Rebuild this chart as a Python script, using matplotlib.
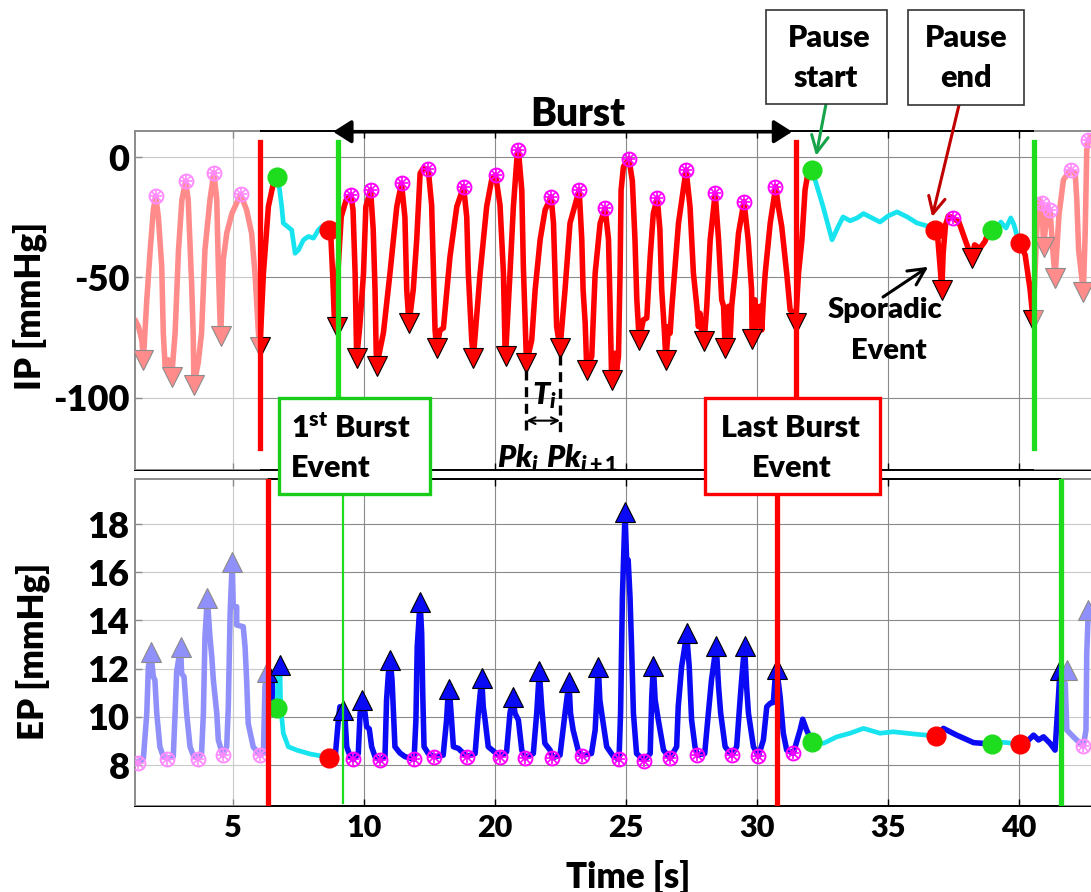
import matplotlib
matplotlib.use("Agg")
import matplotlib.pyplot as plt
from matplotlib.patches import Rectangle

plt.rcParams['font.family'] = ['Lato', 'DejaVu Sans']
plt.rcParams['font.weight'] = 'heavy'
plt.rcParams['axes.unicode_minus'] = False
plt.rcParams['mathtext.fontset'] = 'custom'
plt.rcParams['mathtext.rm'] = 'Lato:heavy'
plt.rcParams['mathtext.it'] = 'Lato:italic:heavy'
plt.rcParams['mathtext.bf'] = 'Lato:heavy'

# ---------------- data ----------------
tick_pos = [5, 10, 15, 20, 25, 30, 35]
tick_labels = ['5', '10', '20', '25', '30', '35', '40']
ip_ticks = [0, -50, -100]
ep_ticks = [8, 10, 12, 14, 16, 18]

# IP trace (mmHg), split into event (red) and pause (cyan) stretches
ip_pre = [(1.26, -67.6), (1.39, -70.4), (1.52, -76.0), (1.58, -84.2), (1.71, -59.3), (1.84, -38.6),
          (1.96, -22.0), (2.05, -16.2), (2.15, -24.8), (2.28, -45.5), (2.34, -73.2), (2.41, -87.0),
          (2.53, -84.2), (2.66, -91.2), (2.79, -73.2), (2.92, -38.6), (3.05, -17.8), (3.19, -10.0),
          (3.29, -17.8), (3.42, -52.4), (3.48, -73.2), (3.51, -94.6), (3.67, -85.6), (3.80, -73.2),
          (3.93, -38.6), (4.12, -17.8), (4.27, -6.5), (4.38, -17.8), (4.44, -45.5), (4.50, -66.2),
          (4.53, -74.5), (4.63, -42.7), (4.76, -31.7), (4.96, -23.4), (5.29, -15.5), (5.52, -22.0),
          (5.71, -31.7), (5.84, -48.3), (5.97, -73.2), (6.03, -79.0), (6.16, -48.3), (6.35, -20.6),
          (6.54, -10.9), (6.67, -8.2)]
ip_pause1 = [(6.67, -8.2), (6.73, -9.5), (6.86, -20.6), (6.92, -27.5), (7.24, -30.3), (7.37, -40.0),
             (7.50, -38.6), (7.69, -34.4), (7.88, -33.0), (8.07, -33.7), (8.26, -30.3), (8.39, -28.9),
             (8.68, -30.3)]
ip_burst = [(8.68, -30.3), (8.74, -34.4), (8.80, -48.3), (8.87, -67.6), (8.96, -70.4), (9.00, -48.3),
            (9.13, -24.8), (9.32, -17.8), (9.50, -15.8), (9.58, -22.0), (9.66, -48.3), (9.71, -76.0),
            (9.72, -83.5), (9.84, -70.0), (9.98, -48.3), (10.07, -20.6), (10.25, -13.7), (10.35, -30.0),
            (10.42, -55.2), (10.46, -78.7), (10.48, -87.0), (10.61, -80.0), (10.74, -73.0), (10.99, -48.3),
            (11.25, -20.6), (11.43, -10.9), (11.56, -25.0), (11.63, -55.2), (11.69, -65.0), (11.72, -69.0),
            (11.88, -55.0), (12.01, -34.4), (12.14, -6.8), (12.26, -4.7), (12.45, -5.1), (12.58, -20.0),
            (12.65, -48.3), (12.71, -71.8), (12.77, -79.4), (12.90, -72.0), (13.03, -71.0), (13.28, -41.4),
            (13.54, -20.6), (13.80, -12.3), (13.92, -25.0), (13.98, -48.3), (14.11, -76.0), (14.17, -83.5),
            (14.43, -48.3), (14.68, -20.6), (14.87, -9.5), (15.02, -7.5), (15.19, -20.0), (15.32, -48.3),
            (15.38, -78.7), (15.40, -82.8), (15.57, -48.3), (15.70, -20.6), (15.83, -1.2), (15.89, 2.9),
            (16.02, -13.7), (16.08, -45.5), (16.15, -69.0), (16.20, -85.6), (16.40, -76.0), (16.53, -55.2),
            (16.72, -34.4), (16.91, -22.0), (17.14, -16.5), (17.23, -27.5), (17.29, -48.3), (17.35, -70.4),
            (17.48, -79.4), (17.67, -55.2), (17.86, -27.5), (18.21, -13.7), (18.31, -34.4), (18.36, -55.2),
            (18.44, -69.0), (18.50, -88.4), (18.69, -82.8), (18.82, -48.3), (19.01, -27.5), (19.20, -21.3),
            (19.33, -34.4), (19.39, -62.0), (19.45, -92.5), (19.58, -81.5), (19.64, -88.4), (19.71, -82.8),
            (19.77, -48.3), (19.81, -13.7), (19.90, -4.0), (20.11, -0.8), (20.24, -10.0), (20.34, -34.4),
            (20.41, -59.3), (20.50, -75.9), (20.66, -67.6), (20.79, -66.9), (20.92, -41.4), (21.04, -23.4),
            (21.19, -17.1), (21.29, -30.0), (21.36, -55.2), (21.46, -72.0), (21.52, -84.2), (21.62, -70.4),
            (21.68, -73.2), (21.75, -62.0), (22.00, -27.5), (22.29, -5.4), (22.44, -20.6), (22.57, -48.3),
            (22.70, -62.0), (22.76, -70.4), (22.82, -64.9), (22.89, -73.2), (22.98, -76.6), (23.08, -62.0),
            (23.21, -34.4), (23.40, -15.1), (23.53, -34.4), (23.65, -59.3), (23.72, -62.0), (23.78, -79.4),
            (23.84, -76.0), (23.91, -62.0), (23.97, -76.0), (24.03, -62.0), (24.16, -48.3), (24.29, -31.7),
            (24.50, -18.5), (24.66, -34.4), (24.79, -55.2), (24.81, -75.7), (24.92, -59.3), (24.99, -70.4),
            (25.11, -62.0), (25.18, -71.8), (25.24, -59.3), (25.31, -48.3), (25.50, -27.5), (25.71, -12.3),
            (25.81, -20.6), (25.94, -28.9), (26.13, -48.3), (26.26, -63.5), (26.45, -65.6), (26.47, -69.0),
            (26.58, -48.3), (26.71, -34.4), (26.83, -13.7), (26.95, -6.0), (27.10, -5.4)]
ip_pause2 = [(27.10, -5.4), (27.52, -20.7), (27.86, -34.4), (28.09, -29.0), (28.28, -24.9), (28.55, -26.5),
             (28.82, -25.3), (29.06, -23.5), (29.31, -24.9), (29.69, -27.0), (30.00, -24.5), (30.34, -22.8),
             (30.73, -24.9), (31.10, -27.4), (31.60, -29.0), (31.80, -30.3)]
ip_sporadic = [(31.80, -30.3), (31.90, -34.4), (31.98, -45.0), (32.05, -55.2), (32.10, -40.0), (32.19, -28.2),
               (32.30, -24.5), (32.49, -25.4), (32.70, -27.0), (32.94, -34.4), (33.19, -42.0), (33.30, -36.5),
               (33.50, -38.0), (33.70, -35.0), (33.80, -32.0), (33.96, -30.3)]
ip_pause3 = [(33.96, -30.3), (34.15, -32.4), (34.30, -27.0), (34.50, -29.5), (34.68, -25.3), (34.80, -28.0),
             (34.90, -32.0), (35.04, -35.8)]
ip_post = [(35.04, -35.8), (35.23, -40.7), (35.42, -55.2), (35.53, -67.6), (35.67, -31.7), (35.74, -17.8),
           (35.86, -19.2), (35.90, -28.0), (35.93, -37.2), (36.02, -28.0), (36.10, -21.0), (36.18, -22.0),
           (36.28, -38.0), (36.37, -50.3), (36.52, -24.0), (36.69, -9.5), (36.95, -5.4), (37.14, -6.8),
           (37.20, -17.8), (37.27, -38.6), (37.45, -55.9), (37.52, -31.7), (37.58, 2.9), (37.64, 7.0),
           (37.80, 9.0)]

ip_peaks = [(2.05, -16.2), (3.19, -10.0), (4.27, -6.5), (5.29, -15.5), (9.50, -15.8), (10.25, -13.7),
            (11.43, -10.9), (12.45, -5.1), (13.80, -12.3), (15.02, -7.5), (15.89, 2.9), (17.13, -16.5),
            (18.21, -13.7), (19.20, -21.3), (20.11, -0.8), (21.19, -17.1), (22.28, -5.4), (23.40, -15.1),
            (24.50, -18.5), (25.70, -12.3), (32.49, -25.4), (35.86, -19.2), (36.18, -22.0), (36.97, -5.4),
            (37.64, 7.0)]
ip_troughs = [(1.58, -84.2), (2.66, -91.2), (3.51, -94.6), (4.53, -74.5), (6.03, -79.0), (8.96, -70.4),
              (9.72, -83.5), (10.48, -87.0), (11.72, -69.0), (12.77, -79.4), (14.17, -83.5), (15.40, -82.8),
              (16.20, -85.6), (17.48, -79.4), (18.50, -88.4), (19.45, -92.5), (20.50, -75.9), (21.52, -84.2),
              (22.96, -76.6), (23.78, -79.4), (24.81, -75.7), (26.47, -69.0), (32.05, -55.2), (33.19, -42.0),
              (35.53, -67.6), (35.93, -37.2), (36.37, -50.3), (37.45, -55.9)]
ip_pause_start = [(6.67, -8.2), (27.10, -5.4), (33.96, -30.3)]
ip_pause_end = [(8.68, -30.3), (31.80, -30.3), (35.04, -35.8)]

# EP trace (mmHg)
ep_pre = [(1.26, 8.14), (1.39, 8.10), (1.58, 8.28), (1.71, 10.15), (1.77, 12.08), (1.86, 12.70), (1.96, 11.66),
          (2.02, 11.53), (2.09, 10.15), (2.21, 8.76), (2.34, 8.35), (2.49, 8.27), (2.72, 8.35), (2.79, 10.15),
          (2.85, 11.87), (3.00, 12.90), (3.04, 11.80), (3.13, 11.66), (3.23, 10.15), (3.36, 8.76), (3.48, 8.41),
          (3.67, 8.27), (3.80, 8.48), (3.87, 10.15), (3.93, 13.32), (4.02, 14.92), (4.12, 13.32), (4.19, 12.49),
          (4.25, 11.53), (4.38, 10.15), (4.44, 9.04), (4.61, 8.41), (4.76, 8.76), (4.82, 10.42), (4.89, 14.29),
          (4.97, 16.44), (5.01, 14.57), (5.14, 14.57), (5.14, 13.81), (5.39, 13.74), (5.46, 12.91),
          (5.52, 11.53), (5.58, 9.73), (5.77, 8.76), (6.03, 8.41), (6.16, 8.48), (6.22, 11.25), (6.29, 11.87),
          (6.35, 11.25), (6.48, 11.80), (6.54, 10.42), (6.67, 10.35)]
ep_pause1 = [(6.67, 10.35), (6.73, 12.00), (6.79, 12.15), (6.82, 10.40), (6.92, 9.32), (7.11, 8.76),
             (7.43, 8.62), (7.94, 8.46), (8.39, 8.37), (8.68, 8.28)]
ep_burst = [(8.68, 8.28), (8.89, 8.21), (9.02, 9.87), (9.08, 10.42), (9.19, 10.28), (9.27, 10.00),
            (9.34, 8.76), (9.47, 8.35), (9.59, 8.23), (9.78, 8.48), (9.85, 10.15), (9.94, 10.70), (10.04, 10.15),
            (10.10, 9.59), (10.20, 9.50), (10.29, 8.76), (10.42, 8.35), (10.61, 8.20), (10.80, 8.35),
            (10.86, 10.70), (10.93, 11.80), (11.00, 12.36), (11.07, 11.50), (11.12, 10.28), (11.18, 8.76),
            (11.37, 8.50), (11.56, 8.35), (11.91, 8.24), (11.98, 9.87), (12.03, 12.91), (12.14, 14.78),
            (12.20, 13.46), (12.24, 10.98), (12.29, 8.76), (12.45, 8.48), (12.67, 8.35), (13.02, 8.41),
            (13.15, 9.87), (13.21, 10.98), (13.26, 11.14), (13.34, 9.87), (13.41, 8.76), (13.60, 8.69),
            (13.92, 8.35), (14.24, 8.48), (14.36, 10.15), (14.49, 11.60), (14.55, 10.42), (14.62, 9.87),
            (14.74, 8.76), (15.19, 8.35), (15.44, 8.55), (15.57, 10.15), (15.68, 10.83), (15.76, 10.15),
            (15.89, 9.87), (16.02, 8.62), (16.15, 8.30), (16.46, 8.48), (16.59, 10.15), (16.69, 11.90),
            (16.78, 10.42), (16.90, 8.90), (17.10, 8.62), (17.19, 8.30), (17.48, 8.41), (17.67, 10.15),
            (17.82, 11.43), (17.88, 10.15), (17.98, 9.45), (18.17, 8.62), (18.30, 8.39), (18.68, 8.48),
            (18.82, 9.45), (18.88, 10.70), (18.94, 12.08), (19.00, 10.70), (19.07, 10.15), (19.26, 8.76),
            (19.52, 8.35), (19.73, 8.24), (19.79, 10.15), (19.86, 14.98), (19.96, 18.49), (20.02, 16.51),
            (20.08, 16.51), (20.15, 14.98), (20.21, 12.91), (20.28, 10.15), (20.40, 8.48), (20.69, 8.18),
            (20.92, 8.48), (20.98, 10.83), (21.04, 12.11), (21.11, 10.70), (21.23, 9.87), (21.43, 8.62),
            (21.68, 8.28), (21.93, 8.76), (21.99, 10.42), (22.12, 12.08), (22.21, 12.70), (22.31, 13.46),
            (22.41, 12.08), (22.50, 9.87), (22.63, 8.76), (22.72, 8.41), (23.00, 8.48), (23.14, 10.15),
            (23.26, 11.53), (23.44, 12.95), (23.53, 11.25), (23.61, 10.15), (23.78, 8.76), (24.03, 8.41),
            (24.22, 8.76), (24.35, 10.70), (24.41, 11.53), (24.52, 12.95), (24.60, 11.25), (24.67, 10.15),
            (24.86, 8.76), (25.05, 8.37), (25.24, 9.04), (25.37, 10.42), (25.50, 10.56), (25.62, 10.60),
            (25.68, 11.50), (25.75, 11.98), (25.88, 10.83), (26.00, 9.32), (26.13, 8.62), (26.38, 8.48),
            (26.64, 9.45), (26.74, 9.90), (26.89, 9.45), (27.10, 8.97)]
ep_pause2 = [(27.10, 8.97), (27.53, 8.90), (28.04, 9.17), (28.55, 9.32), (29.06, 9.52), (29.69, 9.32),
             (30.20, 9.38), (30.97, 9.29), (31.66, 9.22), (31.83, 9.22)]
ep_sporadic = [(31.83, 9.22), (32.11, 9.52), (32.62, 9.24), (33.26, 8.93), (33.95, 8.87)]
ep_pause3 = [(33.95, 8.87), (34.25, 8.95), (34.53, 8.93), (35.04, 8.87)]
ep_post = [(35.04, 8.87), (35.36, 9.04), (35.55, 9.24), (35.74, 9.04), (35.93, 9.17), (36.18, 8.90),
           (36.37, 8.62), (36.50, 10.83), (36.56, 11.94), (36.76, 11.39), (36.82, 9.45), (37.07, 9.17),
           (37.39, 8.83), (37.45, 8.79), (37.55, 9.45), (37.58, 12.63), (37.64, 14.43), (37.80, 14.60)]

ep_peaks = [(1.86, 12.70), (3.00, 12.90), (4.02, 14.92), (4.97, 16.44), (6.29, 11.87), (6.79, 12.15),
            (9.19, 10.28), (9.94, 10.70), (11.00, 12.36), (12.14, 14.78), (13.26, 11.14), (14.49, 11.60),
            (15.68, 10.83), (16.69, 11.90), (17.82, 11.43), (18.94, 12.08), (19.96, 18.49), (21.04, 12.11),
            (22.31, 13.46), (23.44, 12.95), (24.52, 12.95), (25.75, 11.98), (36.56, 11.94), (36.83, 11.94),
            (37.64, 14.43)]
ep_troughs = [(1.39, 8.10), (2.49, 8.27), (3.67, 8.27), (4.61, 8.41), (6.03, 8.41), (9.59, 8.23),
              (10.61, 8.20), (11.91, 8.24), (12.67, 8.35), (13.92, 8.35), (15.19, 8.35), (16.15, 8.30),
              (17.19, 8.30), (18.30, 8.39), (19.73, 8.24), (20.69, 8.18), (21.68, 8.28), (22.72, 8.41),
              (24.03, 8.41), (25.05, 8.37), (26.38, 8.48), (37.45, 8.79)]
ep_pause_start = [(6.67, 10.35), (27.10, 8.97), (33.95, 8.87)]
ep_pause_end = [(8.68, 8.28), (31.83, 9.22), (35.04, 8.87)]

# burst boundaries and faded (out-of-window) ranges
ip_burst_lines = {'first': 9.0, 'last': 26.49, 'prev_end': 6.03, 'next_start': 35.55}
ep_burst_lines = {'first': 9.2, 'last': 25.75, 'prev_end': 6.35, 'next_start': 36.6}
pk_pair = [(16.20, -85.6), (17.48, -79.4)]

# ---------------- styling ----------------
RED = '#ff0000'
BLUE = '#0a0af5'
CYAN = '#18e4f0'
GREEN = '#1edc1e'
MAGENTA = '#ff00ff'
W, H = 1091, 892
XMIN, XMAX = 1.26, 38.99


def fpx(x, y):
    return x / W, 1 - y / H


fig = plt.figure(figsize=(W / 100, H / 100), dpi=100)
ax1 = fig.add_axes([135 / W, 1 - 470 / H, (1123.7 - 135) / W, (470 - 131) / H])
ax2 = fig.add_axes([135 / W, 1 - 806 / H, (1123.7 - 135) / W, (806 - 479) / H])


def trace(ax, pts, color, lw=4.0, z=2):
    t, v = zip(*pts)
    ax.plot(t, v, color=color, lw=lw, zorder=z, solid_joinstyle='round', solid_capstyle='round')


def star_circles(ax, pts, ms=10):
    t, v = zip(*pts)
    ax.plot(t, v, 'o', ms=ms, mfc='none', mec=MAGENTA, mew=1.4, zorder=3.3)
    ax.plot(t, v, '+', ms=ms - 1, mec=MAGENTA, mew=1.2, zorder=3.3)
    ax.plot(t, v, 'x', ms=ms - 3, mec=MAGENTA, mew=1.2, zorder=3.3)


def dots(ax, pts, color):
    t, v = zip(*pts)
    ax.plot(t, v, 'o', ms=13.5, mfc=color, mec=color, zorder=3.5)


def fade(ax, x0, x1):
    ax.add_patch(Rectangle((x0, 0), x1 - x0, 1.004, transform=ax.get_xaxis_transform(),
                           facecolor='white', edgecolor='none', alpha=0.55, zorder=4, clip_on=False))


# ---- IP panel ----
for seg in (ip_pre, ip_burst, ip_sporadic, ip_post):
    trace(ax1, seg, RED)
for seg in (ip_pause1, ip_pause2, ip_pause3):
    trace(ax1, seg, CYAN, lw=3.4, z=2.2)
star_circles(ax1, ip_peaks)
tt, tv = zip(*ip_troughs)
ax1.plot(tt, tv, 'v', ms=15, mfc=RED, mec='black', mew=0.8, zorder=3.2)
dots(ax1, ip_pause_start, GREEN)
dots(ax1, ip_pause_end, RED)

fade(ax1, XMIN - 0.2, ip_burst_lines['prev_end'])
fade(ax1, ip_burst_lines['next_start'], XMAX)

ax1.plot([ip_burst_lines['prev_end']] * 2, [6.2, -120.7], color=RED, lw=3.8, zorder=5)
ax1.plot([ip_burst_lines['first']] * 2, [6.2, -110], color=GREEN, lw=3.8, zorder=5)
ax1.plot([ip_burst_lines['last']] * 2, [6.2, -110], color=RED, lw=3.8, zorder=5)
ax1.plot([ip_burst_lines['next_start']] * 2, [6.2, -120.7], color=GREEN, lw=3.8, zorder=5)

# inter-peak interval markup
for t, v in pk_pair:
    ax1.plot([t, t], [v - 3, -115.4], color='black', lw=2.4, ls=(0, (3, 2)), zorder=6)
ax1.annotate('', xy=(pk_pair[1][0], -109.5), xytext=(pk_pair[0][0], -109.5),
             arrowprops=dict(arrowstyle='<->', color='black', lw=1.5, shrinkA=0, shrinkB=0,
                             mutation_scale=12), zorder=6)
ax1.text((pk_pair[0][0] + pk_pair[1][0]) / 2 + 0.05, -99, r'$T_i$', fontsize=22,
         ha='center', va='center', zorder=6)

ax1.set_xlim(XMIN, XMAX)
ax1.set_ylim(-130, 10.8)
ax1.set_yticks(ip_ticks)
ax1.set_yticklabels([str(v) for v in ip_ticks])

# ---- EP panel ----
for seg in (ep_pre, ep_burst, ep_sporadic, ep_post):
    trace(ax2, seg, BLUE)
for seg in (ep_pause1, ep_pause2, ep_pause3):
    trace(ax2, seg, CYAN, lw=3.4, z=2.2)
pt, pv = zip(*ep_peaks)
ax2.plot(pt, pv, '^', ms=15, mfc=BLUE, mec='black', mew=0.8, zorder=3.2)
star_circles(ax2, ep_troughs)
dots(ax2, ep_pause_start, GREEN)
dots(ax2, ep_pause_end, RED)

fade(ax2, XMIN - 0.2, ep_burst_lines['prev_end'])
fade(ax2, ep_burst_lines['next_start'], XMAX)

ax2.plot([ep_burst_lines['prev_end']] * 2, [19.9, 6.42], color=RED, lw=3.8, zorder=5)
ax2.plot([ep_burst_lines['first']] * 2, [19.9, 6.42], color=GREEN, lw=1.6, zorder=5)
ax2.plot([ep_burst_lines['last']] * 2, [19.9, 6.42], color=RED, lw=3.8, zorder=5)
ax2.plot([ep_burst_lines['next_start']] * 2, [19.9, 6.42], color=GREEN, lw=3.8, zorder=5)

ax2.set_xlim(XMIN, XMAX)
ax2.set_ylim(6.3, 19.87)
ax2.set_yticks(ep_ticks)
ax2.set_yticklabels([str(v) for v in ep_ticks])

for ax in (ax1, ax2):
    ax.set_xticks(tick_pos)
    ax.grid(True, color='#8a8a8a', lw=0.8)
    ax.set_axisbelow(True)
    ax.spines['right'].set_visible(False)
    for s in ('left', 'top', 'bottom'):
        ax.spines[s].set_linewidth(1.4)
    ax.tick_params(axis='both', direction='in', length=5, width=1, top=True)
    ax.tick_params(axis='y', labelsize=26, pad=4)
ax1.set_xticklabels([])
ax2.set_xticklabels(tick_labels)
ax2.tick_params(axis='x', labelsize=22, pad=6)

# ---- axis titles ----
fig.text(*fpx(30, 306), 'IP [mmHg]', rotation=90, fontsize=25, ha='center', va='center')
fig.text(*fpx(33, 651), 'EP [mmHg]', rotation=90, fontsize=25, ha='center', va='center')
fig.text(*fpx(628, 877), 'Time [s]', fontsize=25, ha='center', va='center')

# ---- burst span ----
ax1.annotate('', xy=(26.34, 10.5), xytext=(8.82, 10.5), annotation_clip=False,
             arrowprops=dict(arrowstyle='<|-|>,head_length=0.55,head_width=0.35', color='black', lw=2.6,
                             shrinkA=0, shrinkB=0, mutation_scale=20), zorder=7)
fig.text(*fpx(578, 114), 'Burst', fontsize=28, ha='center', va='center')


# ---- callout boxes ----
def box(x0, y0, x1, y1, ec, lw):
    fig.add_artist(Rectangle((x0 / W, 1 - y1 / H), (x1 - x0) / W, (y1 - y0) / H, transform=fig.transFigure,
                             facecolor='white', edgecolor=ec, lw=lw, zorder=10))


box(766, 10, 887, 104, '#333333', 1.2)
fig.text(*fpx(829, 38), 'Pause', fontsize=22, ha='center', va='center', zorder=11)
fig.text(*fpx(826, 78), 'start', fontsize=22, ha='center', va='center', zorder=11)
box(908, 10, 1024, 105, '#333333', 1.2)
fig.text(*fpx(966, 38), 'Pause', fontsize=22, ha='center', va='center', zorder=11)
fig.text(*fpx(966, 78), 'end', fontsize=22, ha='center', va='center', zorder=11)

box(279, 398, 430, 494, '#19cc19', 2.4)
fig.text(*fpx(291, 428), r'1$^{\mathrm{st}}$ Burst', fontsize=22, ha='left', va='center', zorder=11)
fig.text(*fpx(291, 468), 'Event', fontsize=22, ha='left', va='center', zorder=11)
box(705, 398, 880, 494, RED, 2.4)
fig.text(*fpx(790, 428), 'Last Burst', fontsize=22, ha='center', va='center', zorder=11)
fig.text(*fpx(792, 468), 'Event', fontsize=22, ha='center', va='center', zorder=11)

fig.text(*fpx(518, 458), r'$Pk_i$', fontsize=22, ha='center', va='center', zorder=11)
fig.text(*fpx(582, 458), r'$Pk_{i+1}$', fontsize=22, ha='center', va='center', zorder=11)

# ---- pointer arrows ----
ax1.annotate('', xy=(27.25, 0.5), xytext=fpx(826, 104), textcoords='figure fraction',
             annotation_clip=False,
             arrowprops=dict(arrowstyle='->,head_length=0.6,head_width=0.3', color='#17a34a', lw=2.2,
                             shrinkA=0, shrinkB=0, mutation_scale=20))
ax1.annotate('', xy=(31.68, -24.9), xytext=fpx(959, 105), textcoords='figure fraction',
             annotation_clip=False,
             arrowprops=dict(arrowstyle='->,head_length=0.6,head_width=0.3', color='#c00000', lw=2.2,
                             shrinkA=0, shrinkB=0, mutation_scale=20))
ax1.annotate('', xy=(31.53, -45.6), xytext=fpx(883, 297), textcoords='figure fraction',
             annotation_clip=False,
             arrowprops=dict(arrowstyle='->,head_length=0.6,head_width=0.3', color='black', lw=2.2,
                             shrinkA=0, shrinkB=0, mutation_scale=20))
fig.text(*fpx(885, 310), 'Sporadic', fontsize=21, ha='center', va='center', zorder=11)
fig.text(*fpx(889, 351), 'Event', fontsize=21, ha='center', va='center', zorder=11)

fig.savefig('out.png', dpi=100)
